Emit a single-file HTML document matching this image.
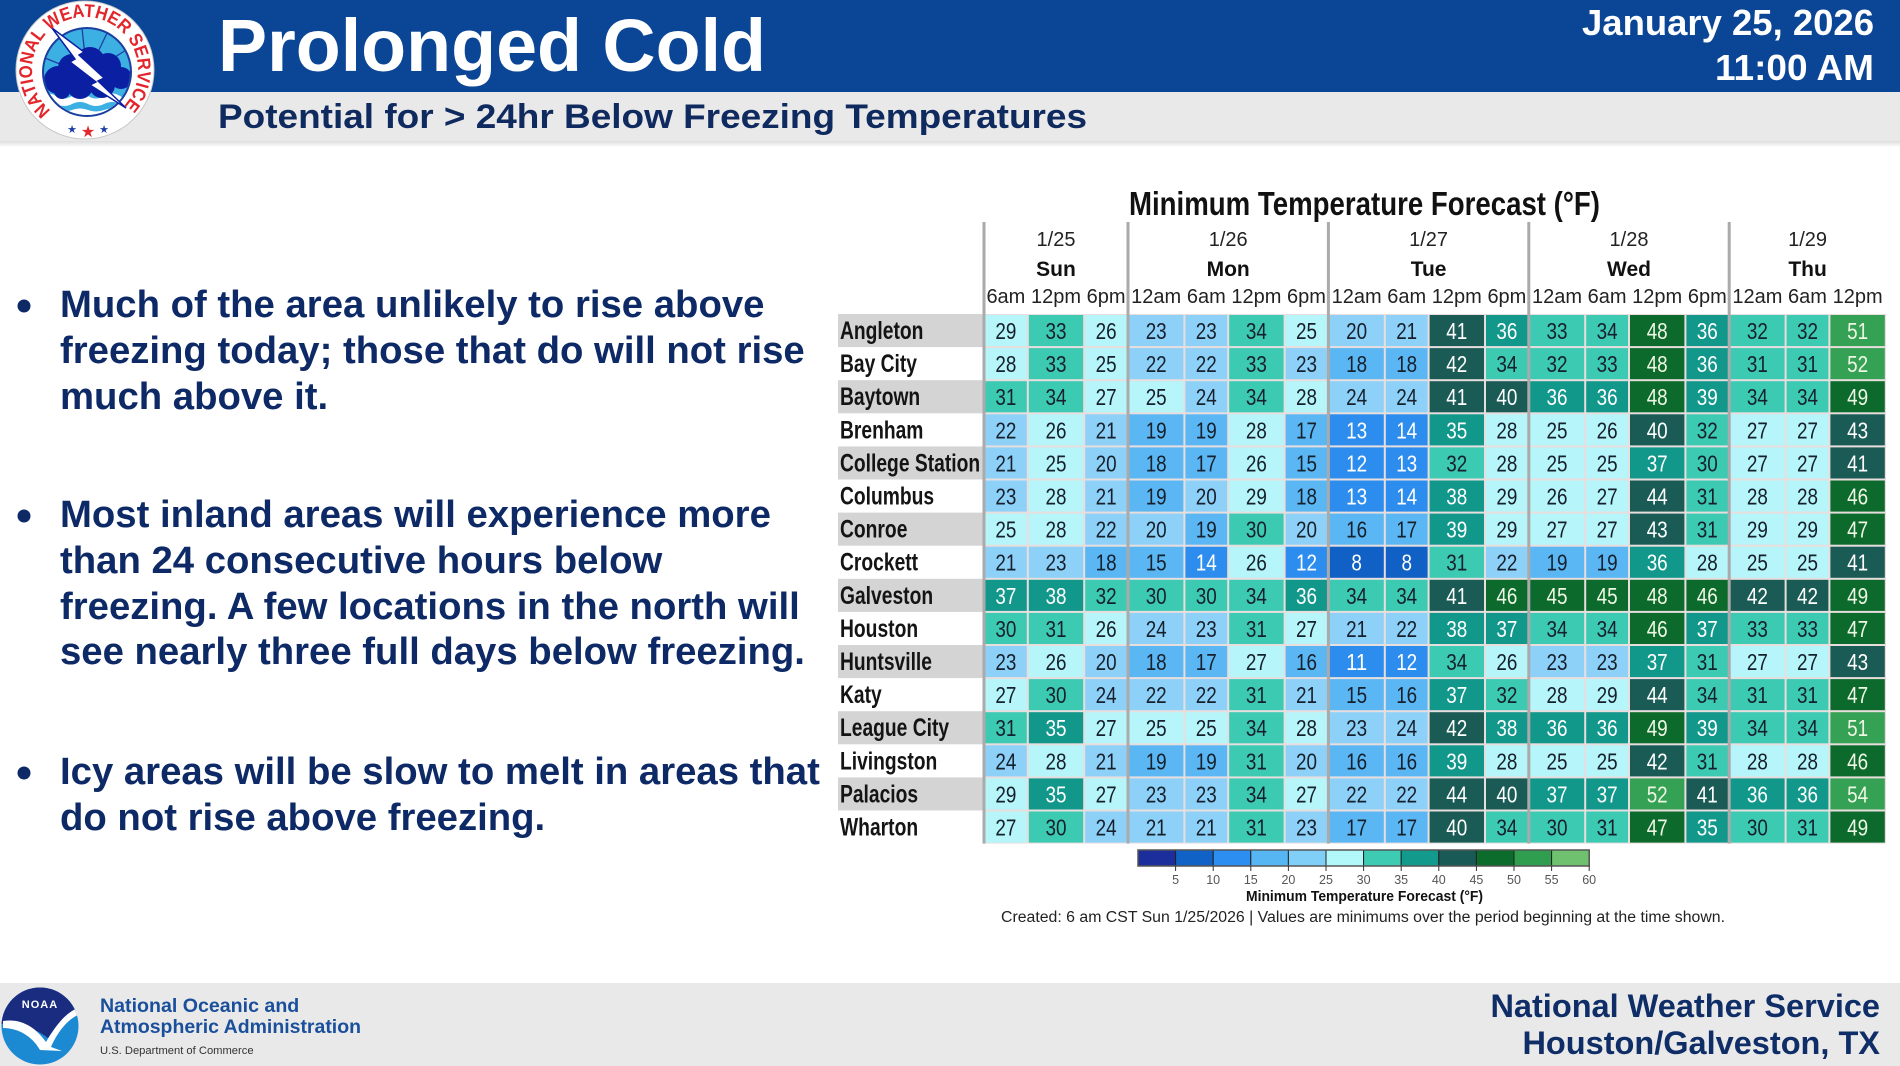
<!DOCTYPE html>
<html><head><meta charset="utf-8"><style>
html,body{margin:0;padding:0;background:#fff;}
svg{display:block;font-family:"Liberation Sans",Arial,sans-serif;}
.k1 rect{fill:#1060c6}.k1 text{fill:#fff}
.k2 rect{fill:#2d8dee}.k2 text{fill:#fff}
.k3 rect{fill:#5bb7f4}.k3 text{fill:#16202c}
.k4 rect{fill:#8ed1f8}.k4 text{fill:#16202c}
.k5 rect{fill:#b6f5f9}.k5 text{fill:#16202c}
.k6 rect{fill:#3dcab3}.k6 text{fill:#16202c}
.k7 rect{fill:#12978b}.k7 text{fill:#fff}
.k8 rect{fill:#1b5b56}.k8 text{fill:#fff}
.k9 rect{fill:#0c6b2c}.k9 text{fill:#eef7e4}
.k10 rect{fill:#35a154}.k10 text{fill:#eef7e4}
.cells g text{font-size:23px;text-anchor:middle;}
.cells text.lab{font-size:25px;font-weight:bold;fill:#141414;text-anchor:start;}
.bul{font-size:38.3px;font-weight:bold;fill:#0e2a66;}
.hd{font-size:20px;fill:#222;text-anchor:middle;}
.dy{font-size:21px;font-weight:bold;fill:#111;text-anchor:middle;}
.tk{font-size:12.5px;fill:#555;text-anchor:middle;}
</style></head><body>
<svg width="1900" height="1066" viewBox="0 0 1900 1066" xmlns="http://www.w3.org/2000/svg">
<defs>
<linearGradient id="sh" x1="0" y1="0" x2="0" y2="1"><stop offset="0" stop-color="#dcdcdc"/><stop offset="1" stop-color="#ffffff"/></linearGradient>
<clipPath id="ic"><circle cx="87" cy="72" r="43"/></clipPath>
<clipPath id="nc"><circle cx="40" cy="1026" r="38.5"/></clipPath>
<path id="ring" d="M50.9,110.6 A53,53 0 1 1 119.1,110.6"/>
</defs>

<!-- header -->
<rect x="0" y="0" width="1900" height="92" fill="#0b4595"/>
<rect x="0" y="92" width="1900" height="49" fill="#e9e9e9"/>
<rect x="0" y="141" width="1900" height="6" fill="url(#sh)"/>
<text x="218" y="71" font-size="74" font-weight="bold" fill="#fff" textLength="548" lengthAdjust="spacingAndGlyphs">Prolonged Cold</text>
<text x="218" y="128" font-size="34" font-weight="bold" fill="#0f2a5e" textLength="869" lengthAdjust="spacingAndGlyphs">Potential for &gt; 24hr Below Freezing Temperatures</text>
<text x="1874" y="35" font-size="36" font-weight="bold" fill="#fff" text-anchor="end" textLength="292" lengthAdjust="spacingAndGlyphs">January 25, 2026</text>
<text x="1874" y="80" font-size="36" font-weight="bold" fill="#fff" text-anchor="end" textLength="159" lengthAdjust="spacingAndGlyphs">11:00 AM</text>

<!-- NWS logo -->
<circle cx="85" cy="70" r="69" fill="#fff" stroke="#c8c8c8" stroke-width="1"/>
<circle cx="87" cy="72" r="45" fill="#1c3f9f"/>
<g clip-path="url(#ic)">
<rect x="40" y="25" width="95" height="95" fill="#3db0e3"/>
<g stroke="#1c3f9f" stroke-width="1.3">
<line x1="87" y1="75" x2="45" y2="58"/><line x1="87" y1="75" x2="58" y2="36"/><line x1="87" y1="75" x2="82" y2="28"/><line x1="87" y1="75" x2="108" y2="31"/><line x1="87" y1="75" x2="126" y2="50"/>
</g>
<path d="M40,96 q8,-5 16,0 t16,0 t16,0 t16,0 t16,0 t16,0 V125 H40Z" fill="#fff"/>
<path d="M40,104 q8,-4 16,0 t16,0 t16,0 t16,0 t16,0 t16,0 V125 H40Z" fill="#3db0e3"/>
<path d="M40,110 q8,-3 16,0 t16,0 t16,0 t16,0 t16,0 t16,0 V125 H40Z" fill="#fff"/>
<g fill="#0b1fa3"><circle cx="58" cy="80" r="14"/><circle cx="72" cy="68" r="14"/><circle cx="90" cy="62" r="15"/><circle cx="108" cy="66" r="13"/><circle cx="121" cy="78" r="11"/><circle cx="102" cy="85" r="13"/><circle cx="80" cy="86" r="13"/><circle cx="62" cy="91" r="8"/></g>
</g>
<polygon points="52,28 84,52 79,55 104,78 98,81 126,108 90,85 96,82 70,62 75,59" fill="#fff" stroke="#0b1fa3" stroke-width="1.5"/>
<text font-size="18.5" font-weight="bold" fill="#e3262b"><textPath href="#ring" textLength="252" lengthAdjust="spacingAndGlyphs">NATIONAL WEATHER SERVICE</textPath></text>
<text x="72" y="133" font-size="11" fill="#1c3f9f" text-anchor="middle" font-family="DejaVu Sans">★</text>
<text x="88" y="137" font-size="16" fill="#e3262b" text-anchor="middle" font-family="DejaVu Sans">★</text>
<text x="104" y="133" font-size="11" fill="#1c3f9f" text-anchor="middle" font-family="DejaVu Sans">★</text>

<!-- bullets -->
<g fill="#0e2a66"><circle cx="24" cy="306" r="6.5"/><circle cx="24" cy="516" r="6.5"/><circle cx="24" cy="773" r="6.5"/></g>
<text class="bul" x="60" y="317">Much of the area unlikely to rise above</text>
<text class="bul" x="60" y="363">freezing today; those that do will not rise</text>
<text class="bul" x="60" y="409">much above it.</text>
<text class="bul" x="60" y="527">Most inland areas will experience more</text>
<text class="bul" x="60" y="573">than 24 consecutive hours below</text>
<text class="bul" x="60" y="619">freezing. A few locations in the north will</text>
<text class="bul" x="60" y="664">see nearly three full days below freezing.</text>
<text class="bul" x="60" y="784">Icy areas will be slow to melt in areas that</text>
<text class="bul" x="60" y="830">do not rise above freezing.</text>

<!-- table title & headers -->
<text x="1129" y="215" font-size="33" font-weight="bold" fill="#111" textLength="471" lengthAdjust="spacingAndGlyphs">Minimum Temperature Forecast (°F)</text>
<text class="hd" x="1056" y="246">1/25</text><text class="hd" x="1228.2" y="246">1/26</text><text class="hd" x="1428.6" y="246">1/27</text><text class="hd" x="1629" y="246">1/28</text><text class="hd" x="1807.6" y="246">1/29</text>
<text class="dy" x="1056" y="276">Sun</text><text class="dy" x="1228.2" y="276">Mon</text><text class="dy" x="1428.6" y="276">Tue</text><text class="dy" x="1629" y="276">Wed</text><text class="dy" x="1807.6" y="276">Thu</text>
<g font-size="20.5">
<text class="hd" x="1005.9" y="303">6am</text><text class="hd" x="1056" y="303">12pm</text><text class="hd" x="1106.1" y="303">6pm</text>
<text class="hd" x="1156.2" y="303">12am</text><text class="hd" x="1206.3" y="303">6am</text><text class="hd" x="1256.4" y="303">12pm</text><text class="hd" x="1306.5" y="303">6pm</text>
<text class="hd" x="1356.6" y="303">12am</text><text class="hd" x="1406.7" y="303">6am</text><text class="hd" x="1456.8" y="303">12pm</text><text class="hd" x="1506.9" y="303">6pm</text>
<text class="hd" x="1557" y="303">12am</text><text class="hd" x="1607.1" y="303">6am</text><text class="hd" x="1657.2" y="303">12pm</text><text class="hd" x="1707.3" y="303">6pm</text>
<text class="hd" x="1757.4" y="303">12am</text><text class="hd" x="1807.5" y="303">6am</text><text class="hd" x="1857.6" y="303">12pm</text>
</g>

<rect x="984" y="314" width="902" height="529.6" fill="#e9dede"/>

<g class="cells">
<!-- Row 0 Angleton -->
<g transform="translate(0,314)">
<rect x="838" y="0" width="146" height="33.1" fill="#d4d4d4"/>
<text class="lab" x="840" y="25" textLength="83.4" lengthAdjust="spacingAndGlyphs">Angleton</text>
<g class="k5"><rect x="985" y="1" width="41.8" height="31.1"/><text x="1005.9" y="25" textLength="21" lengthAdjust="spacingAndGlyphs">29</text></g>
<g class="k6"><rect x="1028.8" y="1" width="54.4" height="31.1"/><text x="1056" y="25" textLength="21" lengthAdjust="spacingAndGlyphs">33</text></g>
<g class="k5"><rect x="1085.2" y="1" width="41.8" height="31.1"/><text x="1106.1" y="25" textLength="21" lengthAdjust="spacingAndGlyphs">26</text></g>
<g class="k4"><rect x="1129" y="1" width="54.4" height="31.1"/><text x="1156.2" y="25" textLength="21" lengthAdjust="spacingAndGlyphs">23</text></g>
<g class="k4"><rect x="1185.4" y="1" width="41.8" height="31.1"/><text x="1206.3" y="25" textLength="21" lengthAdjust="spacingAndGlyphs">23</text></g>
<g class="k6"><rect x="1229.2" y="1" width="54.4" height="31.1"/><text x="1256.4" y="25" textLength="21" lengthAdjust="spacingAndGlyphs">34</text></g>
<g class="k5"><rect x="1285.6" y="1" width="41.8" height="31.1"/><text x="1306.5" y="25" textLength="21" lengthAdjust="spacingAndGlyphs">25</text></g>
<g class="k4"><rect x="1329.4" y="1" width="54.4" height="31.1"/><text x="1356.6" y="25" textLength="21" lengthAdjust="spacingAndGlyphs">20</text></g>
<g class="k4"><rect x="1385.8" y="1" width="41.8" height="31.1"/><text x="1406.7" y="25" textLength="21" lengthAdjust="spacingAndGlyphs">21</text></g>
<g class="k8"><rect x="1429.6" y="1" width="54.4" height="31.1"/><text x="1456.8" y="25" textLength="21" lengthAdjust="spacingAndGlyphs">41</text></g>
<g class="k7"><rect x="1486" y="1" width="41.8" height="31.1"/><text x="1506.9" y="25" textLength="21" lengthAdjust="spacingAndGlyphs">36</text></g>
<g class="k6"><rect x="1529.8" y="1" width="54.4" height="31.1"/><text x="1557" y="25" textLength="21" lengthAdjust="spacingAndGlyphs">33</text></g>
<g class="k6"><rect x="1586.2" y="1" width="41.8" height="31.1"/><text x="1607.1" y="25" textLength="21" lengthAdjust="spacingAndGlyphs">34</text></g>
<g class="k9"><rect x="1630" y="1" width="54.4" height="31.1"/><text x="1657.2" y="25" textLength="21" lengthAdjust="spacingAndGlyphs">48</text></g>
<g class="k7"><rect x="1686.4" y="1" width="41.8" height="31.1"/><text x="1707.3" y="25" textLength="21" lengthAdjust="spacingAndGlyphs">36</text></g>
<g class="k6"><rect x="1730.2" y="1" width="54.4" height="31.1"/><text x="1757.4" y="25" textLength="21" lengthAdjust="spacingAndGlyphs">32</text></g>
<g class="k6"><rect x="1786.6" y="1" width="41.8" height="31.1"/><text x="1807.5" y="25" textLength="21" lengthAdjust="spacingAndGlyphs">32</text></g>
<g class="k10"><rect x="1830.4" y="1" width="54.4" height="31.1"/><text x="1857.6" y="25" textLength="21" lengthAdjust="spacingAndGlyphs">51</text></g>
</g>
<!-- Row 1 Bay City -->
<g transform="translate(0,347.1)">
<text class="lab" x="840" y="25" textLength="77" lengthAdjust="spacingAndGlyphs">Bay City</text>
<g class="k5"><rect x="985" y="1" width="41.8" height="31.1"/><text x="1005.9" y="25" textLength="21" lengthAdjust="spacingAndGlyphs">28</text></g>
<g class="k6"><rect x="1028.8" y="1" width="54.4" height="31.1"/><text x="1056" y="25" textLength="21" lengthAdjust="spacingAndGlyphs">33</text></g>
<g class="k5"><rect x="1085.2" y="1" width="41.8" height="31.1"/><text x="1106.1" y="25" textLength="21" lengthAdjust="spacingAndGlyphs">25</text></g>
<g class="k4"><rect x="1129" y="1" width="54.4" height="31.1"/><text x="1156.2" y="25" textLength="21" lengthAdjust="spacingAndGlyphs">22</text></g>
<g class="k4"><rect x="1185.4" y="1" width="41.8" height="31.1"/><text x="1206.3" y="25" textLength="21" lengthAdjust="spacingAndGlyphs">22</text></g>
<g class="k6"><rect x="1229.2" y="1" width="54.4" height="31.1"/><text x="1256.4" y="25" textLength="21" lengthAdjust="spacingAndGlyphs">33</text></g>
<g class="k4"><rect x="1285.6" y="1" width="41.8" height="31.1"/><text x="1306.5" y="25" textLength="21" lengthAdjust="spacingAndGlyphs">23</text></g>
<g class="k3"><rect x="1329.4" y="1" width="54.4" height="31.1"/><text x="1356.6" y="25" textLength="21" lengthAdjust="spacingAndGlyphs">18</text></g>
<g class="k3"><rect x="1385.8" y="1" width="41.8" height="31.1"/><text x="1406.7" y="25" textLength="21" lengthAdjust="spacingAndGlyphs">18</text></g>
<g class="k8"><rect x="1429.6" y="1" width="54.4" height="31.1"/><text x="1456.8" y="25" textLength="21" lengthAdjust="spacingAndGlyphs">42</text></g>
<g class="k6"><rect x="1486" y="1" width="41.8" height="31.1"/><text x="1506.9" y="25" textLength="21" lengthAdjust="spacingAndGlyphs">34</text></g>
<g class="k6"><rect x="1529.8" y="1" width="54.4" height="31.1"/><text x="1557" y="25" textLength="21" lengthAdjust="spacingAndGlyphs">32</text></g>
<g class="k6"><rect x="1586.2" y="1" width="41.8" height="31.1"/><text x="1607.1" y="25" textLength="21" lengthAdjust="spacingAndGlyphs">33</text></g>
<g class="k9"><rect x="1630" y="1" width="54.4" height="31.1"/><text x="1657.2" y="25" textLength="21" lengthAdjust="spacingAndGlyphs">48</text></g>
<g class="k7"><rect x="1686.4" y="1" width="41.8" height="31.1"/><text x="1707.3" y="25" textLength="21" lengthAdjust="spacingAndGlyphs">36</text></g>
<g class="k6"><rect x="1730.2" y="1" width="54.4" height="31.1"/><text x="1757.4" y="25" textLength="21" lengthAdjust="spacingAndGlyphs">31</text></g>
<g class="k6"><rect x="1786.6" y="1" width="41.8" height="31.1"/><text x="1807.5" y="25" textLength="21" lengthAdjust="spacingAndGlyphs">31</text></g>
<g class="k10"><rect x="1830.4" y="1" width="54.4" height="31.1"/><text x="1857.6" y="25" textLength="21" lengthAdjust="spacingAndGlyphs">52</text></g>
</g>
<!-- Row 2 Baytown -->
<g transform="translate(0,380.2)">
<rect x="838" y="0" width="146" height="33.1" fill="#d4d4d4"/>
<text class="lab" x="840" y="25" textLength="80.2" lengthAdjust="spacingAndGlyphs">Baytown</text>
<g class="k6"><rect x="985" y="1" width="41.8" height="31.1"/><text x="1005.9" y="25" textLength="21" lengthAdjust="spacingAndGlyphs">31</text></g>
<g class="k6"><rect x="1028.8" y="1" width="54.4" height="31.1"/><text x="1056" y="25" textLength="21" lengthAdjust="spacingAndGlyphs">34</text></g>
<g class="k5"><rect x="1085.2" y="1" width="41.8" height="31.1"/><text x="1106.1" y="25" textLength="21" lengthAdjust="spacingAndGlyphs">27</text></g>
<g class="k5"><rect x="1129" y="1" width="54.4" height="31.1"/><text x="1156.2" y="25" textLength="21" lengthAdjust="spacingAndGlyphs">25</text></g>
<g class="k4"><rect x="1185.4" y="1" width="41.8" height="31.1"/><text x="1206.3" y="25" textLength="21" lengthAdjust="spacingAndGlyphs">24</text></g>
<g class="k6"><rect x="1229.2" y="1" width="54.4" height="31.1"/><text x="1256.4" y="25" textLength="21" lengthAdjust="spacingAndGlyphs">34</text></g>
<g class="k5"><rect x="1285.6" y="1" width="41.8" height="31.1"/><text x="1306.5" y="25" textLength="21" lengthAdjust="spacingAndGlyphs">28</text></g>
<g class="k4"><rect x="1329.4" y="1" width="54.4" height="31.1"/><text x="1356.6" y="25" textLength="21" lengthAdjust="spacingAndGlyphs">24</text></g>
<g class="k4"><rect x="1385.8" y="1" width="41.8" height="31.1"/><text x="1406.7" y="25" textLength="21" lengthAdjust="spacingAndGlyphs">24</text></g>
<g class="k8"><rect x="1429.6" y="1" width="54.4" height="31.1"/><text x="1456.8" y="25" textLength="21" lengthAdjust="spacingAndGlyphs">41</text></g>
<g class="k8"><rect x="1486" y="1" width="41.8" height="31.1"/><text x="1506.9" y="25" textLength="21" lengthAdjust="spacingAndGlyphs">40</text></g>
<g class="k7"><rect x="1529.8" y="1" width="54.4" height="31.1"/><text x="1557" y="25" textLength="21" lengthAdjust="spacingAndGlyphs">36</text></g>
<g class="k7"><rect x="1586.2" y="1" width="41.8" height="31.1"/><text x="1607.1" y="25" textLength="21" lengthAdjust="spacingAndGlyphs">36</text></g>
<g class="k9"><rect x="1630" y="1" width="54.4" height="31.1"/><text x="1657.2" y="25" textLength="21" lengthAdjust="spacingAndGlyphs">48</text></g>
<g class="k7"><rect x="1686.4" y="1" width="41.8" height="31.1"/><text x="1707.3" y="25" textLength="21" lengthAdjust="spacingAndGlyphs">39</text></g>
<g class="k6"><rect x="1730.2" y="1" width="54.4" height="31.1"/><text x="1757.4" y="25" textLength="21" lengthAdjust="spacingAndGlyphs">34</text></g>
<g class="k6"><rect x="1786.6" y="1" width="41.8" height="31.1"/><text x="1807.5" y="25" textLength="21" lengthAdjust="spacingAndGlyphs">34</text></g>
<g class="k9"><rect x="1830.4" y="1" width="54.4" height="31.1"/><text x="1857.6" y="25" textLength="21" lengthAdjust="spacingAndGlyphs">49</text></g>
</g>
<!-- Row 3 Brenham -->
<g transform="translate(0,413.3)">
<text class="lab" x="840" y="25" textLength="83.4" lengthAdjust="spacingAndGlyphs">Brenham</text>
<g class="k4"><rect x="985" y="1" width="41.8" height="31.1"/><text x="1005.9" y="25" textLength="21" lengthAdjust="spacingAndGlyphs">22</text></g>
<g class="k5"><rect x="1028.8" y="1" width="54.4" height="31.1"/><text x="1056" y="25" textLength="21" lengthAdjust="spacingAndGlyphs">26</text></g>
<g class="k4"><rect x="1085.2" y="1" width="41.8" height="31.1"/><text x="1106.1" y="25" textLength="21" lengthAdjust="spacingAndGlyphs">21</text></g>
<g class="k3"><rect x="1129" y="1" width="54.4" height="31.1"/><text x="1156.2" y="25" textLength="21" lengthAdjust="spacingAndGlyphs">19</text></g>
<g class="k3"><rect x="1185.4" y="1" width="41.8" height="31.1"/><text x="1206.3" y="25" textLength="21" lengthAdjust="spacingAndGlyphs">19</text></g>
<g class="k5"><rect x="1229.2" y="1" width="54.4" height="31.1"/><text x="1256.4" y="25" textLength="21" lengthAdjust="spacingAndGlyphs">28</text></g>
<g class="k3"><rect x="1285.6" y="1" width="41.8" height="31.1"/><text x="1306.5" y="25" textLength="21" lengthAdjust="spacingAndGlyphs">17</text></g>
<g class="k2"><rect x="1329.4" y="1" width="54.4" height="31.1"/><text x="1356.6" y="25" textLength="21" lengthAdjust="spacingAndGlyphs">13</text></g>
<g class="k2"><rect x="1385.8" y="1" width="41.8" height="31.1"/><text x="1406.7" y="25" textLength="21" lengthAdjust="spacingAndGlyphs">14</text></g>
<g class="k7"><rect x="1429.6" y="1" width="54.4" height="31.1"/><text x="1456.8" y="25" textLength="21" lengthAdjust="spacingAndGlyphs">35</text></g>
<g class="k5"><rect x="1486" y="1" width="41.8" height="31.1"/><text x="1506.9" y="25" textLength="21" lengthAdjust="spacingAndGlyphs">28</text></g>
<g class="k5"><rect x="1529.8" y="1" width="54.4" height="31.1"/><text x="1557" y="25" textLength="21" lengthAdjust="spacingAndGlyphs">25</text></g>
<g class="k5"><rect x="1586.2" y="1" width="41.8" height="31.1"/><text x="1607.1" y="25" textLength="21" lengthAdjust="spacingAndGlyphs">26</text></g>
<g class="k8"><rect x="1630" y="1" width="54.4" height="31.1"/><text x="1657.2" y="25" textLength="21" lengthAdjust="spacingAndGlyphs">40</text></g>
<g class="k6"><rect x="1686.4" y="1" width="41.8" height="31.1"/><text x="1707.3" y="25" textLength="21" lengthAdjust="spacingAndGlyphs">32</text></g>
<g class="k5"><rect x="1730.2" y="1" width="54.4" height="31.1"/><text x="1757.4" y="25" textLength="21" lengthAdjust="spacingAndGlyphs">27</text></g>
<g class="k5"><rect x="1786.6" y="1" width="41.8" height="31.1"/><text x="1807.5" y="25" textLength="21" lengthAdjust="spacingAndGlyphs">27</text></g>
<g class="k8"><rect x="1830.4" y="1" width="54.4" height="31.1"/><text x="1857.6" y="25" textLength="21" lengthAdjust="spacingAndGlyphs">43</text></g>
</g>
<!-- Row 4 College Station -->
<g transform="translate(0,446.4)">
<rect x="838" y="0" width="146" height="33.1" fill="#d4d4d4"/>
<text class="lab" x="840" y="25" textLength="140.1" lengthAdjust="spacingAndGlyphs">College Station</text>
<g class="k4"><rect x="985" y="1" width="41.8" height="31.1"/><text x="1005.9" y="25" textLength="21" lengthAdjust="spacingAndGlyphs">21</text></g>
<g class="k5"><rect x="1028.8" y="1" width="54.4" height="31.1"/><text x="1056" y="25" textLength="21" lengthAdjust="spacingAndGlyphs">25</text></g>
<g class="k4"><rect x="1085.2" y="1" width="41.8" height="31.1"/><text x="1106.1" y="25" textLength="21" lengthAdjust="spacingAndGlyphs">20</text></g>
<g class="k3"><rect x="1129" y="1" width="54.4" height="31.1"/><text x="1156.2" y="25" textLength="21" lengthAdjust="spacingAndGlyphs">18</text></g>
<g class="k3"><rect x="1185.4" y="1" width="41.8" height="31.1"/><text x="1206.3" y="25" textLength="21" lengthAdjust="spacingAndGlyphs">17</text></g>
<g class="k5"><rect x="1229.2" y="1" width="54.4" height="31.1"/><text x="1256.4" y="25" textLength="21" lengthAdjust="spacingAndGlyphs">26</text></g>
<g class="k3"><rect x="1285.6" y="1" width="41.8" height="31.1"/><text x="1306.5" y="25" textLength="21" lengthAdjust="spacingAndGlyphs">15</text></g>
<g class="k2"><rect x="1329.4" y="1" width="54.4" height="31.1"/><text x="1356.6" y="25" textLength="21" lengthAdjust="spacingAndGlyphs">12</text></g>
<g class="k2"><rect x="1385.8" y="1" width="41.8" height="31.1"/><text x="1406.7" y="25" textLength="21" lengthAdjust="spacingAndGlyphs">13</text></g>
<g class="k6"><rect x="1429.6" y="1" width="54.4" height="31.1"/><text x="1456.8" y="25" textLength="21" lengthAdjust="spacingAndGlyphs">32</text></g>
<g class="k5"><rect x="1486" y="1" width="41.8" height="31.1"/><text x="1506.9" y="25" textLength="21" lengthAdjust="spacingAndGlyphs">28</text></g>
<g class="k5"><rect x="1529.8" y="1" width="54.4" height="31.1"/><text x="1557" y="25" textLength="21" lengthAdjust="spacingAndGlyphs">25</text></g>
<g class="k5"><rect x="1586.2" y="1" width="41.8" height="31.1"/><text x="1607.1" y="25" textLength="21" lengthAdjust="spacingAndGlyphs">25</text></g>
<g class="k7"><rect x="1630" y="1" width="54.4" height="31.1"/><text x="1657.2" y="25" textLength="21" lengthAdjust="spacingAndGlyphs">37</text></g>
<g class="k6"><rect x="1686.4" y="1" width="41.8" height="31.1"/><text x="1707.3" y="25" textLength="21" lengthAdjust="spacingAndGlyphs">30</text></g>
<g class="k5"><rect x="1730.2" y="1" width="54.4" height="31.1"/><text x="1757.4" y="25" textLength="21" lengthAdjust="spacingAndGlyphs">27</text></g>
<g class="k5"><rect x="1786.6" y="1" width="41.8" height="31.1"/><text x="1807.5" y="25" textLength="21" lengthAdjust="spacingAndGlyphs">27</text></g>
<g class="k8"><rect x="1830.4" y="1" width="54.4" height="31.1"/><text x="1857.6" y="25" textLength="21" lengthAdjust="spacingAndGlyphs">41</text></g>
</g>
<!-- Row 5 Columbus -->
<g transform="translate(0,479.5)">
<text class="lab" x="840" y="25" textLength="94.1" lengthAdjust="spacingAndGlyphs">Columbus</text>
<g class="k4"><rect x="985" y="1" width="41.8" height="31.1"/><text x="1005.9" y="25" textLength="21" lengthAdjust="spacingAndGlyphs">23</text></g>
<g class="k5"><rect x="1028.8" y="1" width="54.4" height="31.1"/><text x="1056" y="25" textLength="21" lengthAdjust="spacingAndGlyphs">28</text></g>
<g class="k4"><rect x="1085.2" y="1" width="41.8" height="31.1"/><text x="1106.1" y="25" textLength="21" lengthAdjust="spacingAndGlyphs">21</text></g>
<g class="k3"><rect x="1129" y="1" width="54.4" height="31.1"/><text x="1156.2" y="25" textLength="21" lengthAdjust="spacingAndGlyphs">19</text></g>
<g class="k4"><rect x="1185.4" y="1" width="41.8" height="31.1"/><text x="1206.3" y="25" textLength="21" lengthAdjust="spacingAndGlyphs">20</text></g>
<g class="k5"><rect x="1229.2" y="1" width="54.4" height="31.1"/><text x="1256.4" y="25" textLength="21" lengthAdjust="spacingAndGlyphs">29</text></g>
<g class="k3"><rect x="1285.6" y="1" width="41.8" height="31.1"/><text x="1306.5" y="25" textLength="21" lengthAdjust="spacingAndGlyphs">18</text></g>
<g class="k2"><rect x="1329.4" y="1" width="54.4" height="31.1"/><text x="1356.6" y="25" textLength="21" lengthAdjust="spacingAndGlyphs">13</text></g>
<g class="k2"><rect x="1385.8" y="1" width="41.8" height="31.1"/><text x="1406.7" y="25" textLength="21" lengthAdjust="spacingAndGlyphs">14</text></g>
<g class="k7"><rect x="1429.6" y="1" width="54.4" height="31.1"/><text x="1456.8" y="25" textLength="21" lengthAdjust="spacingAndGlyphs">38</text></g>
<g class="k5"><rect x="1486" y="1" width="41.8" height="31.1"/><text x="1506.9" y="25" textLength="21" lengthAdjust="spacingAndGlyphs">29</text></g>
<g class="k5"><rect x="1529.8" y="1" width="54.4" height="31.1"/><text x="1557" y="25" textLength="21" lengthAdjust="spacingAndGlyphs">26</text></g>
<g class="k5"><rect x="1586.2" y="1" width="41.8" height="31.1"/><text x="1607.1" y="25" textLength="21" lengthAdjust="spacingAndGlyphs">27</text></g>
<g class="k8"><rect x="1630" y="1" width="54.4" height="31.1"/><text x="1657.2" y="25" textLength="21" lengthAdjust="spacingAndGlyphs">44</text></g>
<g class="k6"><rect x="1686.4" y="1" width="41.8" height="31.1"/><text x="1707.3" y="25" textLength="21" lengthAdjust="spacingAndGlyphs">31</text></g>
<g class="k5"><rect x="1730.2" y="1" width="54.4" height="31.1"/><text x="1757.4" y="25" textLength="21" lengthAdjust="spacingAndGlyphs">28</text></g>
<g class="k5"><rect x="1786.6" y="1" width="41.8" height="31.1"/><text x="1807.5" y="25" textLength="21" lengthAdjust="spacingAndGlyphs">28</text></g>
<g class="k9"><rect x="1830.4" y="1" width="54.4" height="31.1"/><text x="1857.6" y="25" textLength="21" lengthAdjust="spacingAndGlyphs">46</text></g>
</g>
<!-- Row 6 Conroe -->
<g transform="translate(0,512.6)">
<rect x="838" y="0" width="146" height="33.1" fill="#d4d4d4"/>
<text class="lab" x="840" y="25" textLength="67.4" lengthAdjust="spacingAndGlyphs">Conroe</text>
<g class="k5"><rect x="985" y="1" width="41.8" height="31.1"/><text x="1005.9" y="25" textLength="21" lengthAdjust="spacingAndGlyphs">25</text></g>
<g class="k5"><rect x="1028.8" y="1" width="54.4" height="31.1"/><text x="1056" y="25" textLength="21" lengthAdjust="spacingAndGlyphs">28</text></g>
<g class="k4"><rect x="1085.2" y="1" width="41.8" height="31.1"/><text x="1106.1" y="25" textLength="21" lengthAdjust="spacingAndGlyphs">22</text></g>
<g class="k4"><rect x="1129" y="1" width="54.4" height="31.1"/><text x="1156.2" y="25" textLength="21" lengthAdjust="spacingAndGlyphs">20</text></g>
<g class="k3"><rect x="1185.4" y="1" width="41.8" height="31.1"/><text x="1206.3" y="25" textLength="21" lengthAdjust="spacingAndGlyphs">19</text></g>
<g class="k6"><rect x="1229.2" y="1" width="54.4" height="31.1"/><text x="1256.4" y="25" textLength="21" lengthAdjust="spacingAndGlyphs">30</text></g>
<g class="k4"><rect x="1285.6" y="1" width="41.8" height="31.1"/><text x="1306.5" y="25" textLength="21" lengthAdjust="spacingAndGlyphs">20</text></g>
<g class="k3"><rect x="1329.4" y="1" width="54.4" height="31.1"/><text x="1356.6" y="25" textLength="21" lengthAdjust="spacingAndGlyphs">16</text></g>
<g class="k3"><rect x="1385.8" y="1" width="41.8" height="31.1"/><text x="1406.7" y="25" textLength="21" lengthAdjust="spacingAndGlyphs">17</text></g>
<g class="k7"><rect x="1429.6" y="1" width="54.4" height="31.1"/><text x="1456.8" y="25" textLength="21" lengthAdjust="spacingAndGlyphs">39</text></g>
<g class="k5"><rect x="1486" y="1" width="41.8" height="31.1"/><text x="1506.9" y="25" textLength="21" lengthAdjust="spacingAndGlyphs">29</text></g>
<g class="k5"><rect x="1529.8" y="1" width="54.4" height="31.1"/><text x="1557" y="25" textLength="21" lengthAdjust="spacingAndGlyphs">27</text></g>
<g class="k5"><rect x="1586.2" y="1" width="41.8" height="31.1"/><text x="1607.1" y="25" textLength="21" lengthAdjust="spacingAndGlyphs">27</text></g>
<g class="k8"><rect x="1630" y="1" width="54.4" height="31.1"/><text x="1657.2" y="25" textLength="21" lengthAdjust="spacingAndGlyphs">43</text></g>
<g class="k6"><rect x="1686.4" y="1" width="41.8" height="31.1"/><text x="1707.3" y="25" textLength="21" lengthAdjust="spacingAndGlyphs">31</text></g>
<g class="k5"><rect x="1730.2" y="1" width="54.4" height="31.1"/><text x="1757.4" y="25" textLength="21" lengthAdjust="spacingAndGlyphs">29</text></g>
<g class="k5"><rect x="1786.6" y="1" width="41.8" height="31.1"/><text x="1807.5" y="25" textLength="21" lengthAdjust="spacingAndGlyphs">29</text></g>
<g class="k9"><rect x="1830.4" y="1" width="54.4" height="31.1"/><text x="1857.6" y="25" textLength="21" lengthAdjust="spacingAndGlyphs">47</text></g>
</g>
<!-- Row 7 Crockett -->
<g transform="translate(0,545.7)">
<text class="lab" x="840" y="25" textLength="78.1" lengthAdjust="spacingAndGlyphs">Crockett</text>
<g class="k4"><rect x="985" y="1" width="41.8" height="31.1"/><text x="1005.9" y="25" textLength="21" lengthAdjust="spacingAndGlyphs">21</text></g>
<g class="k4"><rect x="1028.8" y="1" width="54.4" height="31.1"/><text x="1056" y="25" textLength="21" lengthAdjust="spacingAndGlyphs">23</text></g>
<g class="k3"><rect x="1085.2" y="1" width="41.8" height="31.1"/><text x="1106.1" y="25" textLength="21" lengthAdjust="spacingAndGlyphs">18</text></g>
<g class="k3"><rect x="1129" y="1" width="54.4" height="31.1"/><text x="1156.2" y="25" textLength="21" lengthAdjust="spacingAndGlyphs">15</text></g>
<g class="k2"><rect x="1185.4" y="1" width="41.8" height="31.1"/><text x="1206.3" y="25" textLength="21" lengthAdjust="spacingAndGlyphs">14</text></g>
<g class="k5"><rect x="1229.2" y="1" width="54.4" height="31.1"/><text x="1256.4" y="25" textLength="21" lengthAdjust="spacingAndGlyphs">26</text></g>
<g class="k2"><rect x="1285.6" y="1" width="41.8" height="31.1"/><text x="1306.5" y="25" textLength="21" lengthAdjust="spacingAndGlyphs">12</text></g>
<g class="k1"><rect x="1329.4" y="1" width="54.4" height="31.1"/><text x="1356.6" y="25" textLength="10.5" lengthAdjust="spacingAndGlyphs">8</text></g>
<g class="k1"><rect x="1385.8" y="1" width="41.8" height="31.1"/><text x="1406.7" y="25" textLength="10.5" lengthAdjust="spacingAndGlyphs">8</text></g>
<g class="k6"><rect x="1429.6" y="1" width="54.4" height="31.1"/><text x="1456.8" y="25" textLength="21" lengthAdjust="spacingAndGlyphs">31</text></g>
<g class="k4"><rect x="1486" y="1" width="41.8" height="31.1"/><text x="1506.9" y="25" textLength="21" lengthAdjust="spacingAndGlyphs">22</text></g>
<g class="k3"><rect x="1529.8" y="1" width="54.4" height="31.1"/><text x="1557" y="25" textLength="21" lengthAdjust="spacingAndGlyphs">19</text></g>
<g class="k3"><rect x="1586.2" y="1" width="41.8" height="31.1"/><text x="1607.1" y="25" textLength="21" lengthAdjust="spacingAndGlyphs">19</text></g>
<g class="k7"><rect x="1630" y="1" width="54.4" height="31.1"/><text x="1657.2" y="25" textLength="21" lengthAdjust="spacingAndGlyphs">36</text></g>
<g class="k5"><rect x="1686.4" y="1" width="41.8" height="31.1"/><text x="1707.3" y="25" textLength="21" lengthAdjust="spacingAndGlyphs">28</text></g>
<g class="k5"><rect x="1730.2" y="1" width="54.4" height="31.1"/><text x="1757.4" y="25" textLength="21" lengthAdjust="spacingAndGlyphs">25</text></g>
<g class="k5"><rect x="1786.6" y="1" width="41.8" height="31.1"/><text x="1807.5" y="25" textLength="21" lengthAdjust="spacingAndGlyphs">25</text></g>
<g class="k8"><rect x="1830.4" y="1" width="54.4" height="31.1"/><text x="1857.6" y="25" textLength="21" lengthAdjust="spacingAndGlyphs">41</text></g>
</g>
<!-- Row 8 Galveston -->
<g transform="translate(0,578.8)">
<rect x="838" y="0" width="146" height="33.1" fill="#d4d4d4"/>
<text class="lab" x="840" y="25" textLength="93.1" lengthAdjust="spacingAndGlyphs">Galveston</text>
<g class="k7"><rect x="985" y="1" width="41.8" height="31.1"/><text x="1005.9" y="25" textLength="21" lengthAdjust="spacingAndGlyphs">37</text></g>
<g class="k7"><rect x="1028.8" y="1" width="54.4" height="31.1"/><text x="1056" y="25" textLength="21" lengthAdjust="spacingAndGlyphs">38</text></g>
<g class="k6"><rect x="1085.2" y="1" width="41.8" height="31.1"/><text x="1106.1" y="25" textLength="21" lengthAdjust="spacingAndGlyphs">32</text></g>
<g class="k6"><rect x="1129" y="1" width="54.4" height="31.1"/><text x="1156.2" y="25" textLength="21" lengthAdjust="spacingAndGlyphs">30</text></g>
<g class="k6"><rect x="1185.4" y="1" width="41.8" height="31.1"/><text x="1206.3" y="25" textLength="21" lengthAdjust="spacingAndGlyphs">30</text></g>
<g class="k6"><rect x="1229.2" y="1" width="54.4" height="31.1"/><text x="1256.4" y="25" textLength="21" lengthAdjust="spacingAndGlyphs">34</text></g>
<g class="k7"><rect x="1285.6" y="1" width="41.8" height="31.1"/><text x="1306.5" y="25" textLength="21" lengthAdjust="spacingAndGlyphs">36</text></g>
<g class="k6"><rect x="1329.4" y="1" width="54.4" height="31.1"/><text x="1356.6" y="25" textLength="21" lengthAdjust="spacingAndGlyphs">34</text></g>
<g class="k6"><rect x="1385.8" y="1" width="41.8" height="31.1"/><text x="1406.7" y="25" textLength="21" lengthAdjust="spacingAndGlyphs">34</text></g>
<g class="k8"><rect x="1429.6" y="1" width="54.4" height="31.1"/><text x="1456.8" y="25" textLength="21" lengthAdjust="spacingAndGlyphs">41</text></g>
<g class="k9"><rect x="1486" y="1" width="41.8" height="31.1"/><text x="1506.9" y="25" textLength="21" lengthAdjust="spacingAndGlyphs">46</text></g>
<g class="k9"><rect x="1529.8" y="1" width="54.4" height="31.1"/><text x="1557" y="25" textLength="21" lengthAdjust="spacingAndGlyphs">45</text></g>
<g class="k9"><rect x="1586.2" y="1" width="41.8" height="31.1"/><text x="1607.1" y="25" textLength="21" lengthAdjust="spacingAndGlyphs">45</text></g>
<g class="k9"><rect x="1630" y="1" width="54.4" height="31.1"/><text x="1657.2" y="25" textLength="21" lengthAdjust="spacingAndGlyphs">48</text></g>
<g class="k9"><rect x="1686.4" y="1" width="41.8" height="31.1"/><text x="1707.3" y="25" textLength="21" lengthAdjust="spacingAndGlyphs">46</text></g>
<g class="k8"><rect x="1730.2" y="1" width="54.4" height="31.1"/><text x="1757.4" y="25" textLength="21" lengthAdjust="spacingAndGlyphs">42</text></g>
<g class="k8"><rect x="1786.6" y="1" width="41.8" height="31.1"/><text x="1807.5" y="25" textLength="21" lengthAdjust="spacingAndGlyphs">42</text></g>
<g class="k9"><rect x="1830.4" y="1" width="54.4" height="31.1"/><text x="1857.6" y="25" textLength="21" lengthAdjust="spacingAndGlyphs">49</text></g>
</g>
<!-- Row 9 Houston -->
<g transform="translate(0,611.9)">
<text class="lab" x="840" y="25" textLength="78.1" lengthAdjust="spacingAndGlyphs">Houston</text>
<g class="k6"><rect x="985" y="1" width="41.8" height="31.1"/><text x="1005.9" y="25" textLength="21" lengthAdjust="spacingAndGlyphs">30</text></g>
<g class="k6"><rect x="1028.8" y="1" width="54.4" height="31.1"/><text x="1056" y="25" textLength="21" lengthAdjust="spacingAndGlyphs">31</text></g>
<g class="k5"><rect x="1085.2" y="1" width="41.8" height="31.1"/><text x="1106.1" y="25" textLength="21" lengthAdjust="spacingAndGlyphs">26</text></g>
<g class="k4"><rect x="1129" y="1" width="54.4" height="31.1"/><text x="1156.2" y="25" textLength="21" lengthAdjust="spacingAndGlyphs">24</text></g>
<g class="k4"><rect x="1185.4" y="1" width="41.8" height="31.1"/><text x="1206.3" y="25" textLength="21" lengthAdjust="spacingAndGlyphs">23</text></g>
<g class="k6"><rect x="1229.2" y="1" width="54.4" height="31.1"/><text x="1256.4" y="25" textLength="21" lengthAdjust="spacingAndGlyphs">31</text></g>
<g class="k5"><rect x="1285.6" y="1" width="41.8" height="31.1"/><text x="1306.5" y="25" textLength="21" lengthAdjust="spacingAndGlyphs">27</text></g>
<g class="k4"><rect x="1329.4" y="1" width="54.4" height="31.1"/><text x="1356.6" y="25" textLength="21" lengthAdjust="spacingAndGlyphs">21</text></g>
<g class="k4"><rect x="1385.8" y="1" width="41.8" height="31.1"/><text x="1406.7" y="25" textLength="21" lengthAdjust="spacingAndGlyphs">22</text></g>
<g class="k7"><rect x="1429.6" y="1" width="54.4" height="31.1"/><text x="1456.8" y="25" textLength="21" lengthAdjust="spacingAndGlyphs">38</text></g>
<g class="k7"><rect x="1486" y="1" width="41.8" height="31.1"/><text x="1506.9" y="25" textLength="21" lengthAdjust="spacingAndGlyphs">37</text></g>
<g class="k6"><rect x="1529.8" y="1" width="54.4" height="31.1"/><text x="1557" y="25" textLength="21" lengthAdjust="spacingAndGlyphs">34</text></g>
<g class="k6"><rect x="1586.2" y="1" width="41.8" height="31.1"/><text x="1607.1" y="25" textLength="21" lengthAdjust="spacingAndGlyphs">34</text></g>
<g class="k9"><rect x="1630" y="1" width="54.4" height="31.1"/><text x="1657.2" y="25" textLength="21" lengthAdjust="spacingAndGlyphs">46</text></g>
<g class="k7"><rect x="1686.4" y="1" width="41.8" height="31.1"/><text x="1707.3" y="25" textLength="21" lengthAdjust="spacingAndGlyphs">37</text></g>
<g class="k6"><rect x="1730.2" y="1" width="54.4" height="31.1"/><text x="1757.4" y="25" textLength="21" lengthAdjust="spacingAndGlyphs">33</text></g>
<g class="k6"><rect x="1786.6" y="1" width="41.8" height="31.1"/><text x="1807.5" y="25" textLength="21" lengthAdjust="spacingAndGlyphs">33</text></g>
<g class="k9"><rect x="1830.4" y="1" width="54.4" height="31.1"/><text x="1857.6" y="25" textLength="21" lengthAdjust="spacingAndGlyphs">47</text></g>
</g>
<!-- Row 10 Huntsville -->
<g transform="translate(0,645)">
<rect x="838" y="0" width="146" height="33.1" fill="#d4d4d4"/>
<text class="lab" x="840" y="25" textLength="92" lengthAdjust="spacingAndGlyphs">Huntsville</text>
<g class="k4"><rect x="985" y="1" width="41.8" height="31.1"/><text x="1005.9" y="25" textLength="21" lengthAdjust="spacingAndGlyphs">23</text></g>
<g class="k5"><rect x="1028.8" y="1" width="54.4" height="31.1"/><text x="1056" y="25" textLength="21" lengthAdjust="spacingAndGlyphs">26</text></g>
<g class="k4"><rect x="1085.2" y="1" width="41.8" height="31.1"/><text x="1106.1" y="25" textLength="21" lengthAdjust="spacingAndGlyphs">20</text></g>
<g class="k3"><rect x="1129" y="1" width="54.4" height="31.1"/><text x="1156.2" y="25" textLength="21" lengthAdjust="spacingAndGlyphs">18</text></g>
<g class="k3"><rect x="1185.4" y="1" width="41.8" height="31.1"/><text x="1206.3" y="25" textLength="21" lengthAdjust="spacingAndGlyphs">17</text></g>
<g class="k5"><rect x="1229.2" y="1" width="54.4" height="31.1"/><text x="1256.4" y="25" textLength="21" lengthAdjust="spacingAndGlyphs">27</text></g>
<g class="k3"><rect x="1285.6" y="1" width="41.8" height="31.1"/><text x="1306.5" y="25" textLength="21" lengthAdjust="spacingAndGlyphs">16</text></g>
<g class="k2"><rect x="1329.4" y="1" width="54.4" height="31.1"/><text x="1356.6" y="25" textLength="21" lengthAdjust="spacingAndGlyphs">11</text></g>
<g class="k2"><rect x="1385.8" y="1" width="41.8" height="31.1"/><text x="1406.7" y="25" textLength="21" lengthAdjust="spacingAndGlyphs">12</text></g>
<g class="k6"><rect x="1429.6" y="1" width="54.4" height="31.1"/><text x="1456.8" y="25" textLength="21" lengthAdjust="spacingAndGlyphs">34</text></g>
<g class="k5"><rect x="1486" y="1" width="41.8" height="31.1"/><text x="1506.9" y="25" textLength="21" lengthAdjust="spacingAndGlyphs">26</text></g>
<g class="k4"><rect x="1529.8" y="1" width="54.4" height="31.1"/><text x="1557" y="25" textLength="21" lengthAdjust="spacingAndGlyphs">23</text></g>
<g class="k4"><rect x="1586.2" y="1" width="41.8" height="31.1"/><text x="1607.1" y="25" textLength="21" lengthAdjust="spacingAndGlyphs">23</text></g>
<g class="k7"><rect x="1630" y="1" width="54.4" height="31.1"/><text x="1657.2" y="25" textLength="21" lengthAdjust="spacingAndGlyphs">37</text></g>
<g class="k6"><rect x="1686.4" y="1" width="41.8" height="31.1"/><text x="1707.3" y="25" textLength="21" lengthAdjust="spacingAndGlyphs">31</text></g>
<g class="k5"><rect x="1730.2" y="1" width="54.4" height="31.1"/><text x="1757.4" y="25" textLength="21" lengthAdjust="spacingAndGlyphs">27</text></g>
<g class="k5"><rect x="1786.6" y="1" width="41.8" height="31.1"/><text x="1807.5" y="25" textLength="21" lengthAdjust="spacingAndGlyphs">27</text></g>
<g class="k8"><rect x="1830.4" y="1" width="54.4" height="31.1"/><text x="1857.6" y="25" textLength="21" lengthAdjust="spacingAndGlyphs">43</text></g>
</g>
<!-- Row 11 Katy -->
<g transform="translate(0,678.1)">
<text class="lab" x="840" y="25" textLength="41.7" lengthAdjust="spacingAndGlyphs">Katy</text>
<g class="k5"><rect x="985" y="1" width="41.8" height="31.1"/><text x="1005.9" y="25" textLength="21" lengthAdjust="spacingAndGlyphs">27</text></g>
<g class="k6"><rect x="1028.8" y="1" width="54.4" height="31.1"/><text x="1056" y="25" textLength="21" lengthAdjust="spacingAndGlyphs">30</text></g>
<g class="k4"><rect x="1085.2" y="1" width="41.8" height="31.1"/><text x="1106.1" y="25" textLength="21" lengthAdjust="spacingAndGlyphs">24</text></g>
<g class="k4"><rect x="1129" y="1" width="54.4" height="31.1"/><text x="1156.2" y="25" textLength="21" lengthAdjust="spacingAndGlyphs">22</text></g>
<g class="k4"><rect x="1185.4" y="1" width="41.8" height="31.1"/><text x="1206.3" y="25" textLength="21" lengthAdjust="spacingAndGlyphs">22</text></g>
<g class="k6"><rect x="1229.2" y="1" width="54.4" height="31.1"/><text x="1256.4" y="25" textLength="21" lengthAdjust="spacingAndGlyphs">31</text></g>
<g class="k4"><rect x="1285.6" y="1" width="41.8" height="31.1"/><text x="1306.5" y="25" textLength="21" lengthAdjust="spacingAndGlyphs">21</text></g>
<g class="k3"><rect x="1329.4" y="1" width="54.4" height="31.1"/><text x="1356.6" y="25" textLength="21" lengthAdjust="spacingAndGlyphs">15</text></g>
<g class="k3"><rect x="1385.8" y="1" width="41.8" height="31.1"/><text x="1406.7" y="25" textLength="21" lengthAdjust="spacingAndGlyphs">16</text></g>
<g class="k7"><rect x="1429.6" y="1" width="54.4" height="31.1"/><text x="1456.8" y="25" textLength="21" lengthAdjust="spacingAndGlyphs">37</text></g>
<g class="k6"><rect x="1486" y="1" width="41.8" height="31.1"/><text x="1506.9" y="25" textLength="21" lengthAdjust="spacingAndGlyphs">32</text></g>
<g class="k5"><rect x="1529.8" y="1" width="54.4" height="31.1"/><text x="1557" y="25" textLength="21" lengthAdjust="spacingAndGlyphs">28</text></g>
<g class="k5"><rect x="1586.2" y="1" width="41.8" height="31.1"/><text x="1607.1" y="25" textLength="21" lengthAdjust="spacingAndGlyphs">29</text></g>
<g class="k8"><rect x="1630" y="1" width="54.4" height="31.1"/><text x="1657.2" y="25" textLength="21" lengthAdjust="spacingAndGlyphs">44</text></g>
<g class="k6"><rect x="1686.4" y="1" width="41.8" height="31.1"/><text x="1707.3" y="25" textLength="21" lengthAdjust="spacingAndGlyphs">34</text></g>
<g class="k6"><rect x="1730.2" y="1" width="54.4" height="31.1"/><text x="1757.4" y="25" textLength="21" lengthAdjust="spacingAndGlyphs">31</text></g>
<g class="k6"><rect x="1786.6" y="1" width="41.8" height="31.1"/><text x="1807.5" y="25" textLength="21" lengthAdjust="spacingAndGlyphs">31</text></g>
<g class="k9"><rect x="1830.4" y="1" width="54.4" height="31.1"/><text x="1857.6" y="25" textLength="21" lengthAdjust="spacingAndGlyphs">47</text></g>
</g>
<!-- Row 12 League City -->
<g transform="translate(0,711.2)">
<rect x="838" y="0" width="146" height="33.1" fill="#d4d4d4"/>
<text class="lab" x="840" y="25" textLength="109.1" lengthAdjust="spacingAndGlyphs">League City</text>
<g class="k6"><rect x="985" y="1" width="41.8" height="31.1"/><text x="1005.9" y="25" textLength="21" lengthAdjust="spacingAndGlyphs">31</text></g>
<g class="k7"><rect x="1028.8" y="1" width="54.4" height="31.1"/><text x="1056" y="25" textLength="21" lengthAdjust="spacingAndGlyphs">35</text></g>
<g class="k5"><rect x="1085.2" y="1" width="41.8" height="31.1"/><text x="1106.1" y="25" textLength="21" lengthAdjust="spacingAndGlyphs">27</text></g>
<g class="k5"><rect x="1129" y="1" width="54.4" height="31.1"/><text x="1156.2" y="25" textLength="21" lengthAdjust="spacingAndGlyphs">25</text></g>
<g class="k5"><rect x="1185.4" y="1" width="41.8" height="31.1"/><text x="1206.3" y="25" textLength="21" lengthAdjust="spacingAndGlyphs">25</text></g>
<g class="k6"><rect x="1229.2" y="1" width="54.4" height="31.1"/><text x="1256.4" y="25" textLength="21" lengthAdjust="spacingAndGlyphs">34</text></g>
<g class="k5"><rect x="1285.6" y="1" width="41.8" height="31.1"/><text x="1306.5" y="25" textLength="21" lengthAdjust="spacingAndGlyphs">28</text></g>
<g class="k4"><rect x="1329.4" y="1" width="54.4" height="31.1"/><text x="1356.6" y="25" textLength="21" lengthAdjust="spacingAndGlyphs">23</text></g>
<g class="k4"><rect x="1385.8" y="1" width="41.8" height="31.1"/><text x="1406.7" y="25" textLength="21" lengthAdjust="spacingAndGlyphs">24</text></g>
<g class="k8"><rect x="1429.6" y="1" width="54.4" height="31.1"/><text x="1456.8" y="25" textLength="21" lengthAdjust="spacingAndGlyphs">42</text></g>
<g class="k7"><rect x="1486" y="1" width="41.8" height="31.1"/><text x="1506.9" y="25" textLength="21" lengthAdjust="spacingAndGlyphs">38</text></g>
<g class="k7"><rect x="1529.8" y="1" width="54.4" height="31.1"/><text x="1557" y="25" textLength="21" lengthAdjust="spacingAndGlyphs">36</text></g>
<g class="k7"><rect x="1586.2" y="1" width="41.8" height="31.1"/><text x="1607.1" y="25" textLength="21" lengthAdjust="spacingAndGlyphs">36</text></g>
<g class="k9"><rect x="1630" y="1" width="54.4" height="31.1"/><text x="1657.2" y="25" textLength="21" lengthAdjust="spacingAndGlyphs">49</text></g>
<g class="k7"><rect x="1686.4" y="1" width="41.8" height="31.1"/><text x="1707.3" y="25" textLength="21" lengthAdjust="spacingAndGlyphs">39</text></g>
<g class="k6"><rect x="1730.2" y="1" width="54.4" height="31.1"/><text x="1757.4" y="25" textLength="21" lengthAdjust="spacingAndGlyphs">34</text></g>
<g class="k6"><rect x="1786.6" y="1" width="41.8" height="31.1"/><text x="1807.5" y="25" textLength="21" lengthAdjust="spacingAndGlyphs">34</text></g>
<g class="k10"><rect x="1830.4" y="1" width="54.4" height="31.1"/><text x="1857.6" y="25" textLength="21" lengthAdjust="spacingAndGlyphs">51</text></g>
</g>
<!-- Row 13 Livingston -->
<g transform="translate(0,744.3)">
<text class="lab" x="840" y="25" textLength="97.3" lengthAdjust="spacingAndGlyphs">Livingston</text>
<g class="k4"><rect x="985" y="1" width="41.8" height="31.1"/><text x="1005.9" y="25" textLength="21" lengthAdjust="spacingAndGlyphs">24</text></g>
<g class="k5"><rect x="1028.8" y="1" width="54.4" height="31.1"/><text x="1056" y="25" textLength="21" lengthAdjust="spacingAndGlyphs">28</text></g>
<g class="k4"><rect x="1085.2" y="1" width="41.8" height="31.1"/><text x="1106.1" y="25" textLength="21" lengthAdjust="spacingAndGlyphs">21</text></g>
<g class="k3"><rect x="1129" y="1" width="54.4" height="31.1"/><text x="1156.2" y="25" textLength="21" lengthAdjust="spacingAndGlyphs">19</text></g>
<g class="k3"><rect x="1185.4" y="1" width="41.8" height="31.1"/><text x="1206.3" y="25" textLength="21" lengthAdjust="spacingAndGlyphs">19</text></g>
<g class="k6"><rect x="1229.2" y="1" width="54.4" height="31.1"/><text x="1256.4" y="25" textLength="21" lengthAdjust="spacingAndGlyphs">31</text></g>
<g class="k4"><rect x="1285.6" y="1" width="41.8" height="31.1"/><text x="1306.5" y="25" textLength="21" lengthAdjust="spacingAndGlyphs">20</text></g>
<g class="k3"><rect x="1329.4" y="1" width="54.4" height="31.1"/><text x="1356.6" y="25" textLength="21" lengthAdjust="spacingAndGlyphs">16</text></g>
<g class="k3"><rect x="1385.8" y="1" width="41.8" height="31.1"/><text x="1406.7" y="25" textLength="21" lengthAdjust="spacingAndGlyphs">16</text></g>
<g class="k7"><rect x="1429.6" y="1" width="54.4" height="31.1"/><text x="1456.8" y="25" textLength="21" lengthAdjust="spacingAndGlyphs">39</text></g>
<g class="k5"><rect x="1486" y="1" width="41.8" height="31.1"/><text x="1506.9" y="25" textLength="21" lengthAdjust="spacingAndGlyphs">28</text></g>
<g class="k5"><rect x="1529.8" y="1" width="54.4" height="31.1"/><text x="1557" y="25" textLength="21" lengthAdjust="spacingAndGlyphs">25</text></g>
<g class="k5"><rect x="1586.2" y="1" width="41.8" height="31.1"/><text x="1607.1" y="25" textLength="21" lengthAdjust="spacingAndGlyphs">25</text></g>
<g class="k8"><rect x="1630" y="1" width="54.4" height="31.1"/><text x="1657.2" y="25" textLength="21" lengthAdjust="spacingAndGlyphs">42</text></g>
<g class="k6"><rect x="1686.4" y="1" width="41.8" height="31.1"/><text x="1707.3" y="25" textLength="21" lengthAdjust="spacingAndGlyphs">31</text></g>
<g class="k5"><rect x="1730.2" y="1" width="54.4" height="31.1"/><text x="1757.4" y="25" textLength="21" lengthAdjust="spacingAndGlyphs">28</text></g>
<g class="k5"><rect x="1786.6" y="1" width="41.8" height="31.1"/><text x="1807.5" y="25" textLength="21" lengthAdjust="spacingAndGlyphs">28</text></g>
<g class="k9"><rect x="1830.4" y="1" width="54.4" height="31.1"/><text x="1857.6" y="25" textLength="21" lengthAdjust="spacingAndGlyphs">46</text></g>
</g>
<!-- Row 14 Palacios -->
<g transform="translate(0,777.4)">
<rect x="838" y="0" width="146" height="33.1" fill="#d4d4d4"/>
<text class="lab" x="840" y="25" textLength="78.1" lengthAdjust="spacingAndGlyphs">Palacios</text>
<g class="k5"><rect x="985" y="1" width="41.8" height="31.1"/><text x="1005.9" y="25" textLength="21" lengthAdjust="spacingAndGlyphs">29</text></g>
<g class="k7"><rect x="1028.8" y="1" width="54.4" height="31.1"/><text x="1056" y="25" textLength="21" lengthAdjust="spacingAndGlyphs">35</text></g>
<g class="k5"><rect x="1085.2" y="1" width="41.8" height="31.1"/><text x="1106.1" y="25" textLength="21" lengthAdjust="spacingAndGlyphs">27</text></g>
<g class="k4"><rect x="1129" y="1" width="54.4" height="31.1"/><text x="1156.2" y="25" textLength="21" lengthAdjust="spacingAndGlyphs">23</text></g>
<g class="k4"><rect x="1185.4" y="1" width="41.8" height="31.1"/><text x="1206.3" y="25" textLength="21" lengthAdjust="spacingAndGlyphs">23</text></g>
<g class="k6"><rect x="1229.2" y="1" width="54.4" height="31.1"/><text x="1256.4" y="25" textLength="21" lengthAdjust="spacingAndGlyphs">34</text></g>
<g class="k5"><rect x="1285.6" y="1" width="41.8" height="31.1"/><text x="1306.5" y="25" textLength="21" lengthAdjust="spacingAndGlyphs">27</text></g>
<g class="k4"><rect x="1329.4" y="1" width="54.4" height="31.1"/><text x="1356.6" y="25" textLength="21" lengthAdjust="spacingAndGlyphs">22</text></g>
<g class="k4"><rect x="1385.8" y="1" width="41.8" height="31.1"/><text x="1406.7" y="25" textLength="21" lengthAdjust="spacingAndGlyphs">22</text></g>
<g class="k8"><rect x="1429.6" y="1" width="54.4" height="31.1"/><text x="1456.8" y="25" textLength="21" lengthAdjust="spacingAndGlyphs">44</text></g>
<g class="k8"><rect x="1486" y="1" width="41.8" height="31.1"/><text x="1506.9" y="25" textLength="21" lengthAdjust="spacingAndGlyphs">40</text></g>
<g class="k7"><rect x="1529.8" y="1" width="54.4" height="31.1"/><text x="1557" y="25" textLength="21" lengthAdjust="spacingAndGlyphs">37</text></g>
<g class="k7"><rect x="1586.2" y="1" width="41.8" height="31.1"/><text x="1607.1" y="25" textLength="21" lengthAdjust="spacingAndGlyphs">37</text></g>
<g class="k10"><rect x="1630" y="1" width="54.4" height="31.1"/><text x="1657.2" y="25" textLength="21" lengthAdjust="spacingAndGlyphs">52</text></g>
<g class="k8"><rect x="1686.4" y="1" width="41.8" height="31.1"/><text x="1707.3" y="25" textLength="21" lengthAdjust="spacingAndGlyphs">41</text></g>
<g class="k7"><rect x="1730.2" y="1" width="54.4" height="31.1"/><text x="1757.4" y="25" textLength="21" lengthAdjust="spacingAndGlyphs">36</text></g>
<g class="k7"><rect x="1786.6" y="1" width="41.8" height="31.1"/><text x="1807.5" y="25" textLength="21" lengthAdjust="spacingAndGlyphs">36</text></g>
<g class="k10"><rect x="1830.4" y="1" width="54.4" height="31.1"/><text x="1857.6" y="25" textLength="21" lengthAdjust="spacingAndGlyphs">54</text></g>
</g>
<!-- Row 15 Wharton -->
<g transform="translate(0,810.5)">
<text class="lab" x="840" y="25" textLength="78.1" lengthAdjust="spacingAndGlyphs">Wharton</text>
<g class="k5"><rect x="985" y="1" width="41.8" height="31.1"/><text x="1005.9" y="25" textLength="21" lengthAdjust="spacingAndGlyphs">27</text></g>
<g class="k6"><rect x="1028.8" y="1" width="54.4" height="31.1"/><text x="1056" y="25" textLength="21" lengthAdjust="spacingAndGlyphs">30</text></g>
<g class="k4"><rect x="1085.2" y="1" width="41.8" height="31.1"/><text x="1106.1" y="25" textLength="21" lengthAdjust="spacingAndGlyphs">24</text></g>
<g class="k4"><rect x="1129" y="1" width="54.4" height="31.1"/><text x="1156.2" y="25" textLength="21" lengthAdjust="spacingAndGlyphs">21</text></g>
<g class="k4"><rect x="1185.4" y="1" width="41.8" height="31.1"/><text x="1206.3" y="25" textLength="21" lengthAdjust="spacingAndGlyphs">21</text></g>
<g class="k6"><rect x="1229.2" y="1" width="54.4" height="31.1"/><text x="1256.4" y="25" textLength="21" lengthAdjust="spacingAndGlyphs">31</text></g>
<g class="k4"><rect x="1285.6" y="1" width="41.8" height="31.1"/><text x="1306.5" y="25" textLength="21" lengthAdjust="spacingAndGlyphs">23</text></g>
<g class="k3"><rect x="1329.4" y="1" width="54.4" height="31.1"/><text x="1356.6" y="25" textLength="21" lengthAdjust="spacingAndGlyphs">17</text></g>
<g class="k3"><rect x="1385.8" y="1" width="41.8" height="31.1"/><text x="1406.7" y="25" textLength="21" lengthAdjust="spacingAndGlyphs">17</text></g>
<g class="k8"><rect x="1429.6" y="1" width="54.4" height="31.1"/><text x="1456.8" y="25" textLength="21" lengthAdjust="spacingAndGlyphs">40</text></g>
<g class="k6"><rect x="1486" y="1" width="41.8" height="31.1"/><text x="1506.9" y="25" textLength="21" lengthAdjust="spacingAndGlyphs">34</text></g>
<g class="k6"><rect x="1529.8" y="1" width="54.4" height="31.1"/><text x="1557" y="25" textLength="21" lengthAdjust="spacingAndGlyphs">30</text></g>
<g class="k6"><rect x="1586.2" y="1" width="41.8" height="31.1"/><text x="1607.1" y="25" textLength="21" lengthAdjust="spacingAndGlyphs">31</text></g>
<g class="k9"><rect x="1630" y="1" width="54.4" height="31.1"/><text x="1657.2" y="25" textLength="21" lengthAdjust="spacingAndGlyphs">47</text></g>
<g class="k7"><rect x="1686.4" y="1" width="41.8" height="31.1"/><text x="1707.3" y="25" textLength="21" lengthAdjust="spacingAndGlyphs">35</text></g>
<g class="k6"><rect x="1730.2" y="1" width="54.4" height="31.1"/><text x="1757.4" y="25" textLength="21" lengthAdjust="spacingAndGlyphs">30</text></g>
<g class="k6"><rect x="1786.6" y="1" width="41.8" height="31.1"/><text x="1807.5" y="25" textLength="21" lengthAdjust="spacingAndGlyphs">31</text></g>
<g class="k9"><rect x="1830.4" y="1" width="54.4" height="31.1"/><text x="1857.6" y="25" textLength="21" lengthAdjust="spacingAndGlyphs">49</text></g>
</g>
</g>

<!-- day separators -->
<g fill="#aaaaaa">
<rect x="982.5" y="222" width="3" height="621.6"/>
<rect x="1126.5" y="222" width="3" height="621.6"/>
<rect x="1326.9" y="222" width="3" height="621.6"/>
<rect x="1527.3" y="222" width="3" height="621.6"/>
<rect x="1727.7" y="222" width="3" height="621.6"/>
</g>

<!-- colorbar -->
<g stroke="#222" stroke-width="1">
<rect x="1138" y="850" width="37.6" height="16" fill="#1b2e9c"/>
<rect x="1175.6" y="850" width="37.6" height="16" fill="#1062c6"/>
<rect x="1213.2" y="850" width="37.6" height="16" fill="#2c8ef0"/>
<rect x="1250.8" y="850" width="37.6" height="16" fill="#56b6f4"/>
<rect x="1288.4" y="850" width="37.6" height="16" fill="#80cff8"/>
<rect x="1326" y="850" width="37.6" height="16" fill="#b2f8fb"/>
<rect x="1363.6" y="850" width="37.6" height="16" fill="#3dcbb4"/>
<rect x="1401.2" y="850" width="37.6" height="16" fill="#129a8c"/>
<rect x="1438.8" y="850" width="37.6" height="16" fill="#1a5a56"/>
<rect x="1476.4" y="850" width="37.6" height="16" fill="#0c6c2c"/>
<rect x="1514" y="850" width="37.6" height="16" fill="#2f9e4f"/>
<rect x="1551.6" y="850" width="37.6" height="16" fill="#6fc170"/>
</g>
<rect x="1138" y="850" width="451.2" height="16" fill="none" stroke="#555" stroke-width="1.5"/>
<g stroke="#333" stroke-width="1">
<line x1="1175.6" y1="866" x2="1175.6" y2="871"/><line x1="1213.2" y1="866" x2="1213.2" y2="871"/><line x1="1250.8" y1="866" x2="1250.8" y2="871"/><line x1="1288.4" y1="866" x2="1288.4" y2="871"/><line x1="1326" y1="866" x2="1326" y2="871"/><line x1="1363.6" y1="866" x2="1363.6" y2="871"/><line x1="1401.2" y1="866" x2="1401.2" y2="871"/><line x1="1438.8" y1="866" x2="1438.8" y2="871"/><line x1="1476.4" y1="866" x2="1476.4" y2="871"/><line x1="1514" y1="866" x2="1514" y2="871"/><line x1="1551.6" y1="866" x2="1551.6" y2="871"/><line x1="1589.2" y1="866" x2="1589.2" y2="871"/>
</g>
<text class="tk" x="1175.6" y="884">5</text><text class="tk" x="1213.2" y="884">10</text><text class="tk" x="1250.8" y="884">15</text><text class="tk" x="1288.4" y="884">20</text><text class="tk" x="1326" y="884">25</text><text class="tk" x="1363.6" y="884">30</text><text class="tk" x="1401.2" y="884">35</text><text class="tk" x="1438.8" y="884">40</text><text class="tk" x="1476.4" y="884">45</text><text class="tk" x="1514" y="884">50</text><text class="tk" x="1551.6" y="884">55</text><text class="tk" x="1589.2" y="884">60</text>
<text x="1364.5" y="901" font-size="15" font-weight="bold" fill="#111" text-anchor="middle" textLength="237" lengthAdjust="spacingAndGlyphs">Minimum Temperature Forecast (°F)</text>
<text x="1001" y="922" font-size="15.5" fill="#222" textLength="724" lengthAdjust="spacingAndGlyphs">Created: 6 am CST Sun 1/25/2026  |  Values are minimums over the period beginning at the time shown.</text>

<!-- footer -->
<rect x="0" y="983" width="1900" height="83" fill="#e9e9e9"/>
<g clip-path="url(#nc)">
<rect x="0" y="985" width="82" height="84" fill="#1b8ad3"/>
<path d="M0,985 H82 V1012 C70,1010 60,1022 48,1038 C38,1030 20,1022 0,1024 Z" fill="#1a2c80"/>
<path d="M3,1021 C22,1018 36,1028 46,1042 C56,1025 66,1012 80,1007 L80,1014 C68,1019 58,1031 51,1047 L62,1051 L40,1050 C32,1036 18,1028 3,1028 Z" fill="#fff"/>
</g>
<text x="40" y="1008" font-size="11" font-weight="bold" fill="#fff" text-anchor="middle" letter-spacing="1">NOAA</text>
<text x="100" y="1012" font-size="19.6" font-weight="bold" fill="#1a4f9c">National Oceanic and</text>
<text x="100" y="1033" font-size="19.6" font-weight="bold" fill="#1a4f9c" textLength="261" lengthAdjust="spacingAndGlyphs">Atmospheric Administration</text>
<text x="100" y="1054" font-size="11.2" fill="#333">U.S. Department of Commerce</text>
<text x="1880" y="1017" font-size="32.5" font-weight="bold" fill="#0f2d66" text-anchor="end">National Weather Service</text>
<text x="1880" y="1054" font-size="32.5" font-weight="bold" fill="#0f2d66" text-anchor="end">Houston/Galveston, TX</text>
</svg>
</body></html>
